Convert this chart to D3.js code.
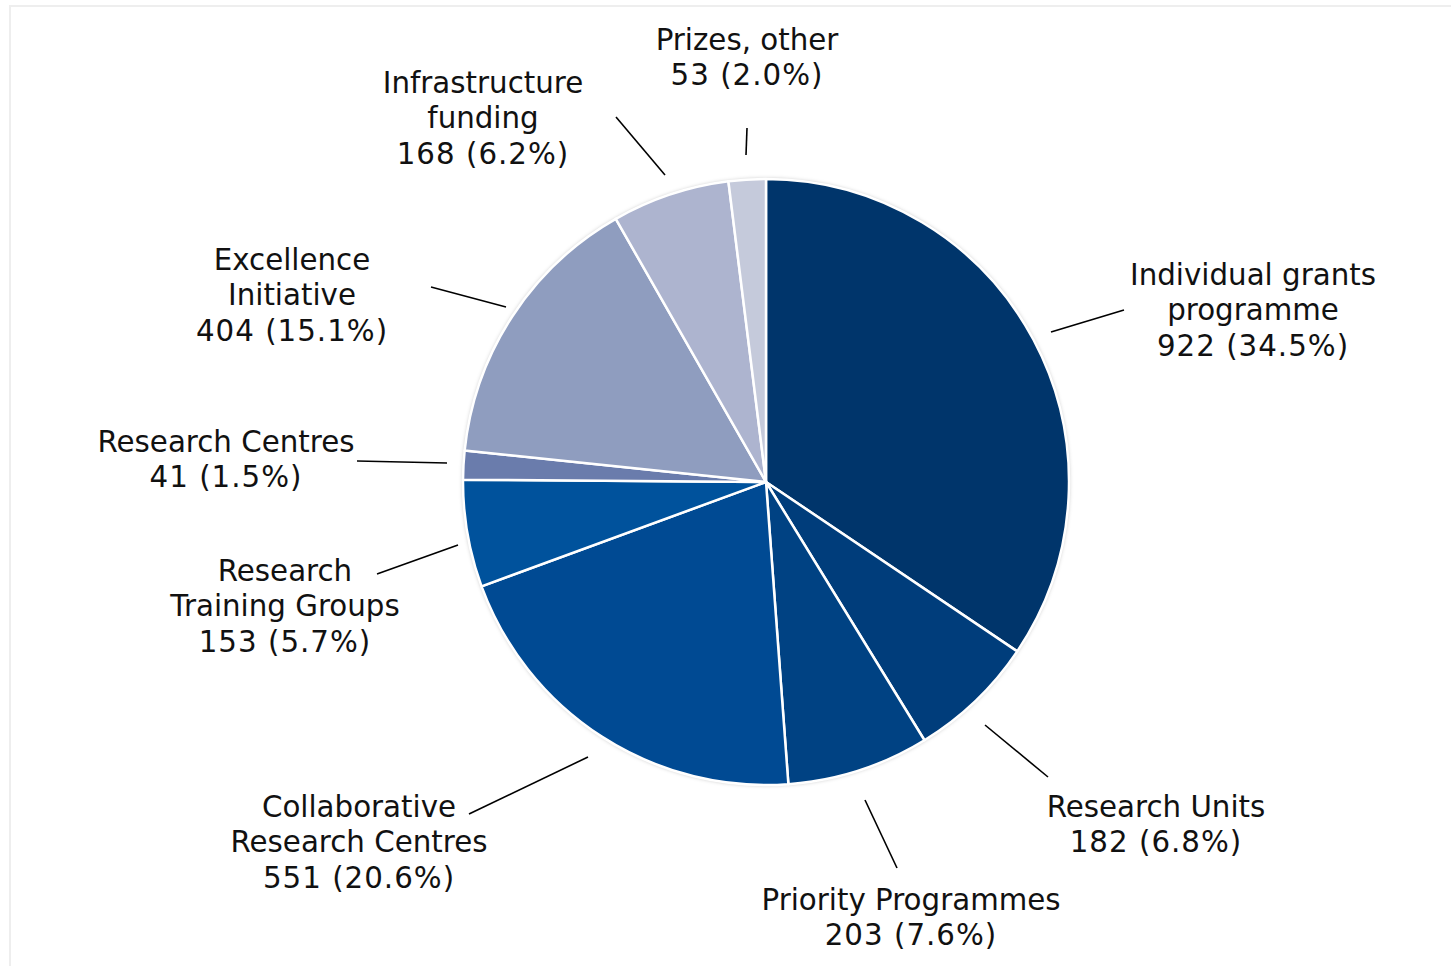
<!DOCTYPE html>
<html>
<head>
<meta charset="utf-8">
<script src="https://cdn.jsdelivr.net/npm/d3@7"></script>
<style>
  html, body { margin: 0; padding: 0; background: #fff; }
  svg { display: block; }
  text { font-family: "DejaVu Sans", Verdana, sans-serif; fill: #111; }
</style>
</head>
<body>
<svg id="chart" width="1451" height="966"></svg>
<script>
// ---- data ----
const categories = [
  "Individual grants programme",
  "Research Units",
  "Priority Programmes",
  "Collaborative Research Centres",
  "Research Training Groups",
  "Research Centres",
  "Excellence Initiative",
  "Infrastructure funding",
  "Prizes, other"
];
const values = [922, 182, 203, 551, 153, 41, 404, 168, 53];
const percentLabels = ["34.5%", "6.8%", "7.6%", "20.6%", "5.7%", "1.5%", "15.1%", "6.2%", "2.0%"];
const labelLines = [
  ["Individual grants", "programme"],
  ["Research Units"],
  ["Priority Programmes"],
  ["Collaborative", "Research Centres"],
  ["Research", "Training Groups"],
  ["Research Centres"],
  ["Excellence", "Initiative"],
  ["Infrastructure", "funding"],
  ["Prizes, other"]
];
const colors = ["#00356b", "#003d7b", "#004283", "#004a93", "#00529c", "#6a7cac", "#8f9dbf", "#adb4cf", "#c5cadb"];

// ---- layout (positions of labels / leader lines) ----
const labelPos = [
  [1253, 285], [1156, 817], [911, 910], [359, 817], [285, 581],
  [226, 452], [292, 270], [483, 93], [747, 50]
];
const leaderStart = [
  [1051, 332], [985, 725], [865, 800], [588, 757], [458, 545],
  [447, 463], [506, 307], [665, 175], [746, 155]
];
const leaderEnd = [
  [1124, 310], [1048, 777], [897, 868], [469, 814], [377, 574],
  [357, 461], [431, 287], [616, 117], [747, 128]
];

const cx = 766, cy = 482, R = 303;
const fontSize = 29.3, lineH = 35.3;

const svg = d3.select("#chart");

// frame
svg.append("rect")
  .attr("x", 10).attr("y", 6).attr("width", 1600).attr("height", 1200)
  .attr("fill", "none").attr("stroke", "#eeeeee").attr("stroke-width", 2);

const defs = svg.append("defs");
const f = defs.append("filter").attr("id", "glow")
  .attr("x", "-10%").attr("y", "-10%").attr("width", "120%").attr("height", "120%");
f.append("feDropShadow").attr("dx", 0).attr("dy", 0).attr("stdDeviation", 2)
  .attr("flood-color", "#000").attr("flood-opacity", 0.3);

const pie = d3.pie().sort(null).value(d => d)(values);
const arc = d3.arc().innerRadius(0).outerRadius(R);

const g = svg.append("g").attr("transform", `translate(${cx},${cy})`);
g.append("circle").attr("r", R).attr("fill", "#fff").attr("filter", "url(#glow)");
g.selectAll("path.slice").data(pie).join("path")
  .attr("class", "slice")
  .attr("d", arc)
  .attr("fill", (d, i) => colors[i])
  .attr("stroke", "#fff")
  .attr("stroke-width", 2.5)
  .attr("stroke-linejoin", "round");

// leader lines
svg.selectAll("line.leader").data(pie).join("line")
  .attr("class", "leader")
  .attr("x1", (d, i) => leaderStart[i][0])
  .attr("y1", (d, i) => leaderStart[i][1])
  .attr("x2", (d, i) => leaderEnd[i][0])
  .attr("y2", (d, i) => leaderEnd[i][1])
  .attr("stroke", "#000").attr("stroke-width", 1.6);

// labels
const fmt = d3.format(",");
const lbl = svg.selectAll("text.lbl").data(pie).join("text")
  .attr("class", "lbl")
  .attr("text-anchor", "middle")
  .attr("font-size", fontSize)
  .attr("x", (d, i) => labelPos[i][0])
  .attr("y", (d, i) => labelPos[i][1]);
lbl.each(function(d, i) {
  const n = labelLines[i].length;
  const lines = labelLines[i].concat([`${fmt(values[i])} (${percentLabels[i]})`]);
  d3.select(this).selectAll("tspan").data(lines).join("tspan")
    .attr("x", labelPos[i][0])
    .attr("dy", (t, j) => j === 0 ? 0 : lineH)
    .attr("letter-spacing", (t, j) => j === n ? 1 : null)
    .text(t => t);
});
</script>
</body>
</html>
